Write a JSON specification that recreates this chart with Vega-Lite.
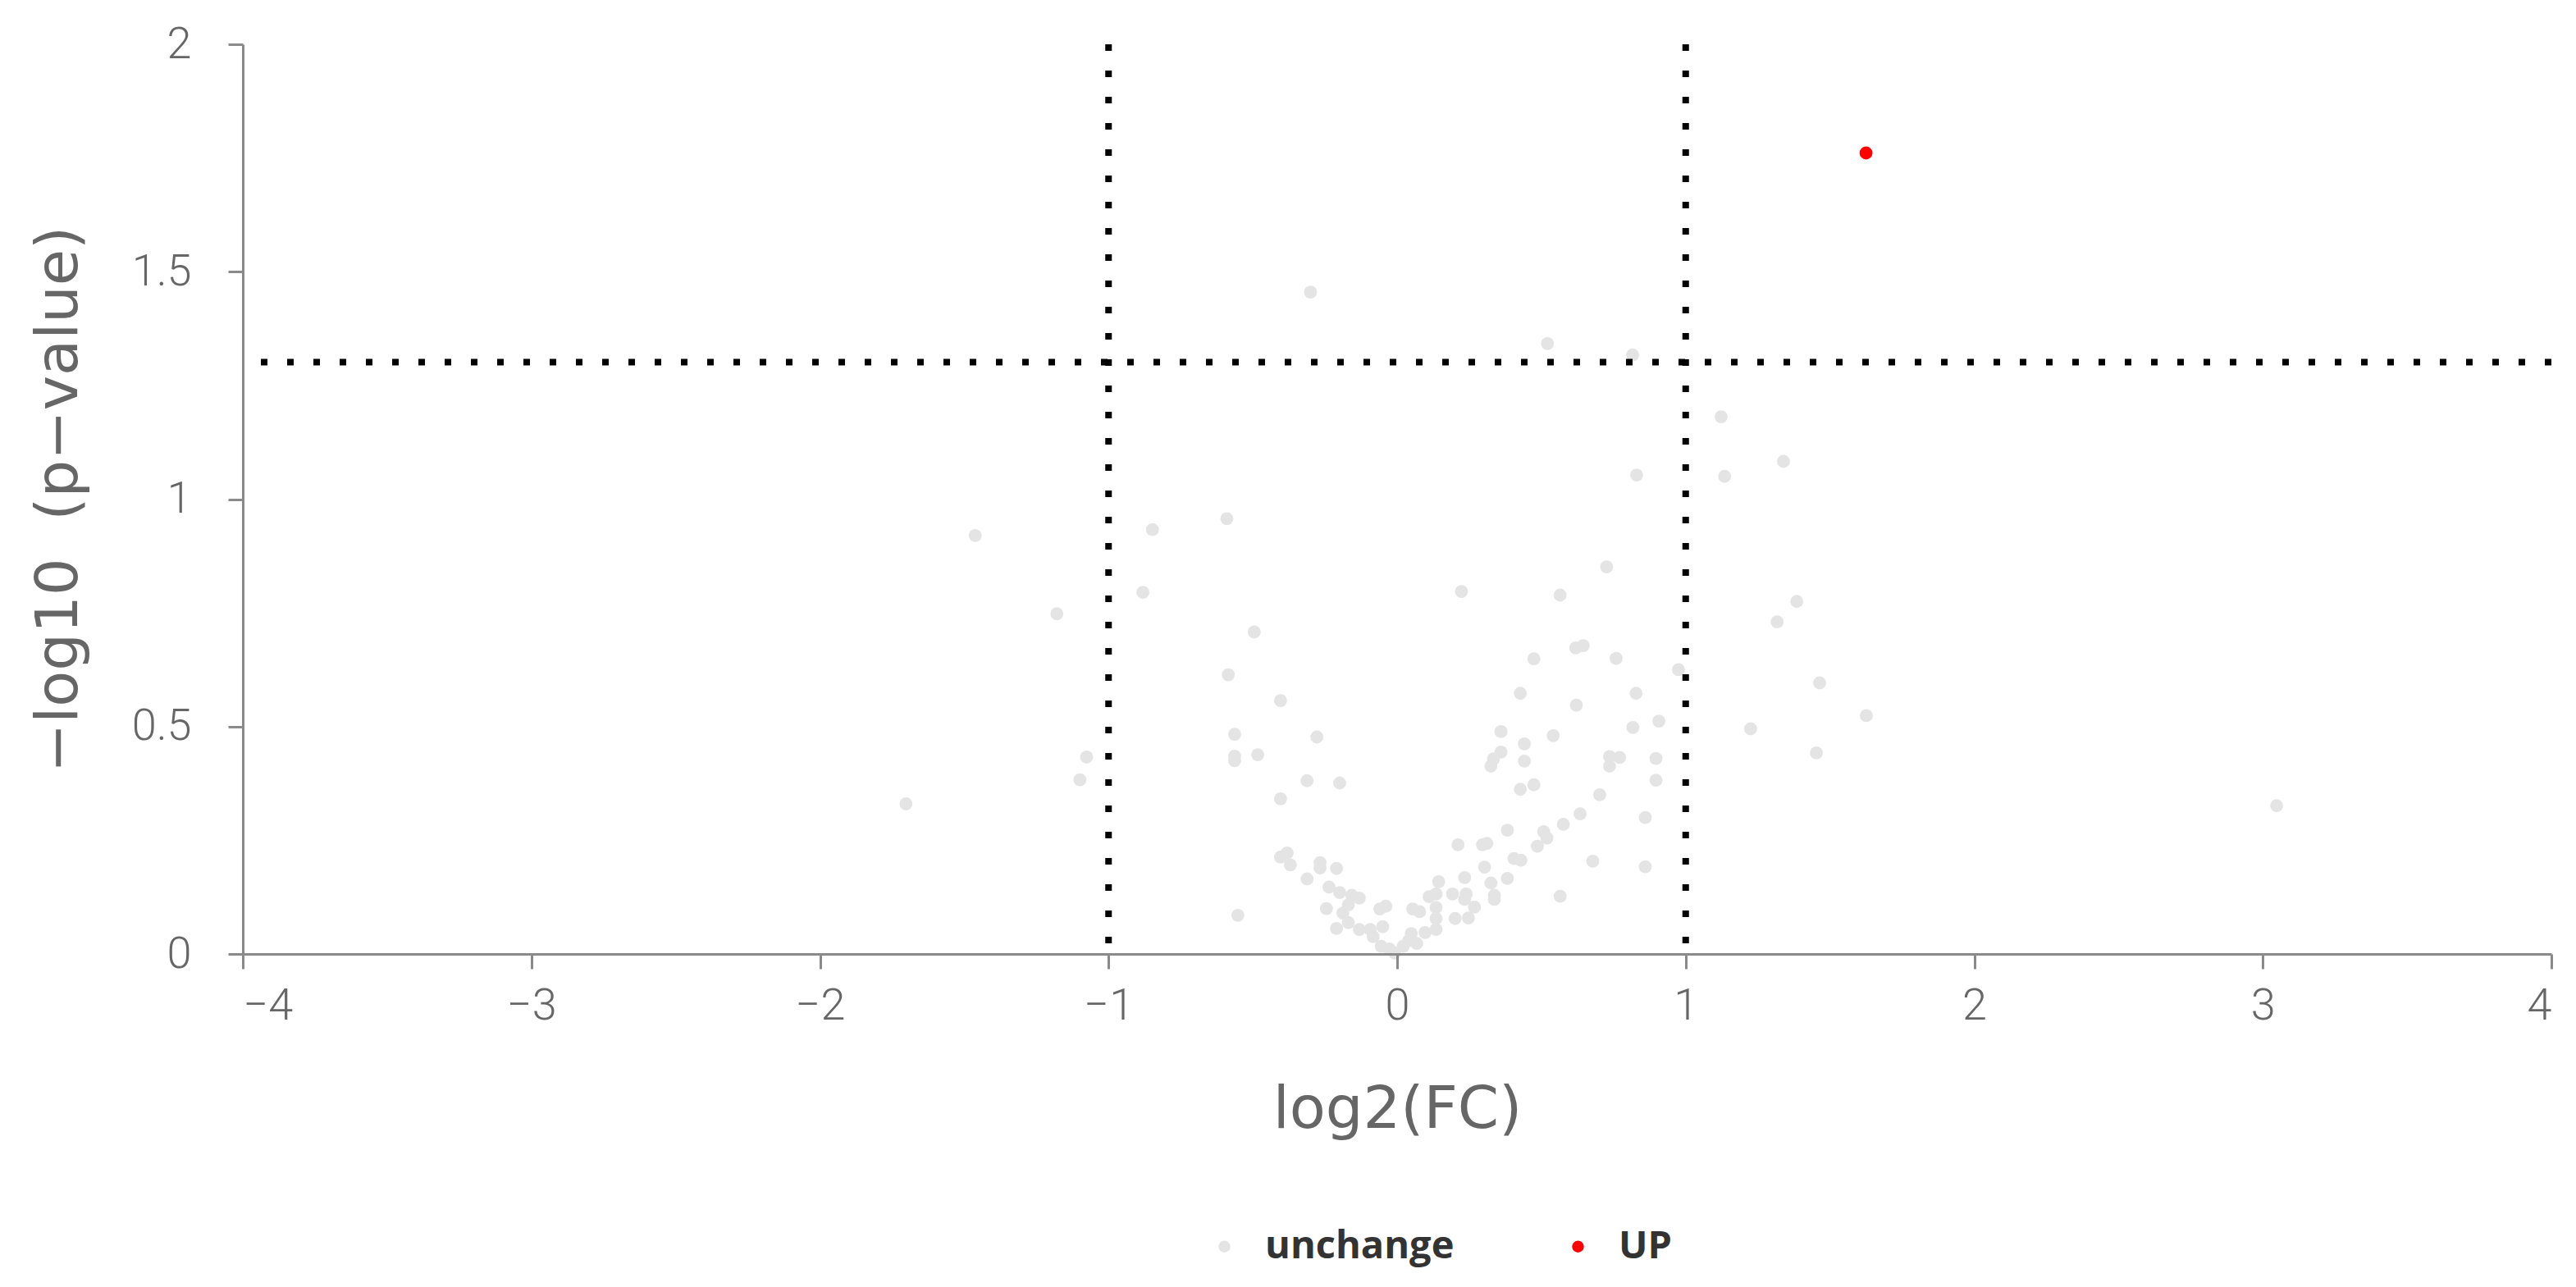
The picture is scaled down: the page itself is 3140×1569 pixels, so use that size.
{
  "$schema": "https://vega.github.io/schema/vega-lite/v6.json",
  "width": 2814,
  "height": 1109,
  "autosize": {"type": "none"},
  "padding": {"left": 296, "top": 54, "right": 30, "bottom": 406},
  "background": "white",
  "config": {"view": {"stroke": null}, "font": "Roboto"},
  "datasets": {
    "genes": [
      {"log2FC": -1.702, "logP": 0.330, "group": "unchange"},
      {"log2FC": -1.462, "logP": 0.920, "group": "unchange"},
      {"log2FC": -1.179, "logP": 0.748, "group": "unchange"},
      {"log2FC": -1.099, "logP": 0.383, "group": "unchange"},
      {"log2FC": -1.076, "logP": 0.433, "group": "unchange"},
      {"log2FC": -0.848, "logP": 0.933, "group": "unchange"},
      {"log2FC": -0.881, "logP": 0.795, "group": "unchange"},
      {"log2FC": -0.590, "logP": 0.957, "group": "unchange"},
      {"log2FC": -0.495, "logP": 0.708, "group": "unchange"},
      {"log2FC": -0.585, "logP": 0.614, "group": "unchange"},
      {"log2FC": -0.404, "logP": 0.557, "group": "unchange"},
      {"log2FC": -0.563, "logP": 0.483, "group": "unchange"},
      {"log2FC": -0.278, "logP": 0.477, "group": "unchange"},
      {"log2FC": -0.563, "logP": 0.435, "group": "unchange"},
      {"log2FC": -0.563, "logP": 0.425, "group": "unchange"},
      {"log2FC": -0.483, "logP": 0.438, "group": "unchange"},
      {"log2FC": -0.312, "logP": 0.381, "group": "unchange"},
      {"log2FC": -0.199, "logP": 0.376, "group": "unchange"},
      {"log2FC": -0.404, "logP": 0.341, "group": "unchange"},
      {"log2FC": -0.404, "logP": 0.213, "group": "unchange"},
      {"log2FC": -0.381, "logP": 0.222, "group": "unchange"},
      {"log2FC": -0.370, "logP": 0.196, "group": "unchange"},
      {"log2FC": -0.267, "logP": 0.201, "group": "unchange"},
      {"log2FC": -0.267, "logP": 0.189, "group": "unchange"},
      {"log2FC": -0.210, "logP": 0.188, "group": "unchange"},
      {"log2FC": -0.312, "logP": 0.165, "group": "unchange"},
      {"log2FC": -0.236, "logP": 0.147, "group": "unchange"},
      {"log2FC": -0.199, "logP": 0.135, "group": "unchange"},
      {"log2FC": -0.245, "logP": 0.100, "group": "unchange"},
      {"log2FC": -0.552, "logP": 0.085, "group": "unchange"},
      {"log2FC": -0.157, "logP": 0.129, "group": "unchange"},
      {"log2FC": -0.131, "logP": 0.123, "group": "unchange"},
      {"log2FC": -0.169, "logP": 0.108, "group": "unchange"},
      {"log2FC": -0.188, "logP": 0.090, "group": "unchange"},
      {"log2FC": -0.210, "logP": 0.056, "group": "unchange"},
      {"log2FC": -0.169, "logP": 0.069, "group": "unchange"},
      {"log2FC": -0.131, "logP": 0.054, "group": "unchange"},
      {"log2FC": -0.093, "logP": 0.054, "group": "unchange"},
      {"log2FC": -0.083, "logP": 0.038, "group": "unchange"},
      {"log2FC": -0.060, "logP": 0.099, "group": "unchange"},
      {"log2FC": -0.039, "logP": 0.105, "group": "unchange"},
      {"log2FC": -0.050, "logP": 0.060, "group": "unchange"},
      {"log2FC": -0.055, "logP": 0.017, "group": "unchange"},
      {"log2FC": -0.027, "logP": 0.011, "group": "unchange"},
      {"log2FC": -0.008, "logP": 0.002, "group": "unchange"},
      {"log2FC": 0.021, "logP": 0.017, "group": "unchange"},
      {"log2FC": 0.040, "logP": 0.029, "group": "unchange"},
      {"log2FC": 0.049, "logP": 0.045, "group": "unchange"},
      {"log2FC": 0.068, "logP": 0.023, "group": "unchange"},
      {"log2FC": 0.054, "logP": 0.099, "group": "unchange"},
      {"log2FC": 0.078, "logP": 0.093, "group": "unchange"},
      {"log2FC": 0.097, "logP": 0.047, "group": "unchange"},
      {"log2FC": 0.135, "logP": 0.054, "group": "unchange"},
      {"log2FC": 0.111, "logP": 0.126, "group": "unchange"},
      {"log2FC": 0.135, "logP": 0.132, "group": "unchange"},
      {"log2FC": 0.144, "logP": 0.159, "group": "unchange"},
      {"log2FC": 0.135, "logP": 0.102, "group": "unchange"},
      {"log2FC": 0.135, "logP": 0.078, "group": "unchange"},
      {"log2FC": 0.192, "logP": 0.132, "group": "unchange"},
      {"log2FC": 0.239, "logP": 0.132, "group": "unchange"},
      {"log2FC": 0.234, "logP": 0.120, "group": "unchange"},
      {"log2FC": 0.201, "logP": 0.078, "group": "unchange"},
      {"log2FC": 0.247, "logP": 0.079, "group": "unchange"},
      {"log2FC": 0.268, "logP": 0.103, "group": "unchange"},
      {"log2FC": 0.337, "logP": 0.129, "group": "unchange"},
      {"log2FC": 0.337, "logP": 0.120, "group": "unchange"},
      {"log2FC": 0.565, "logP": 0.127, "group": "unchange"},
      {"log2FC": 0.234, "logP": 0.168, "group": "unchange"},
      {"log2FC": 0.382, "logP": 0.166, "group": "unchange"},
      {"log2FC": 0.325, "logP": 0.156, "group": "unchange"},
      {"log2FC": 0.303, "logP": 0.191, "group": "unchange"},
      {"log2FC": 0.405, "logP": 0.210, "group": "unchange"},
      {"log2FC": 0.429, "logP": 0.206, "group": "unchange"},
      {"log2FC": 0.678, "logP": 0.204, "group": "unchange"},
      {"log2FC": 0.860, "logP": 0.192, "group": "unchange"},
      {"log2FC": 0.211, "logP": 0.240, "group": "unchange"},
      {"log2FC": 0.296, "logP": 0.240, "group": "unchange"},
      {"log2FC": 0.311, "logP": 0.243, "group": "unchange"},
      {"log2FC": 0.486, "logP": 0.237, "group": "unchange"},
      {"log2FC": 0.508, "logP": 0.269, "group": "unchange"},
      {"log2FC": 0.519, "logP": 0.255, "group": "unchange"},
      {"log2FC": 0.382, "logP": 0.272, "group": "unchange"},
      {"log2FC": 0.576, "logP": 0.285, "group": "unchange"},
      {"log2FC": 0.634, "logP": 0.308, "group": "unchange"},
      {"log2FC": 0.860, "logP": 0.300, "group": "unchange"},
      {"log2FC": 0.702, "logP": 0.350, "group": "unchange"},
      {"log2FC": 0.427, "logP": 0.362, "group": "unchange"},
      {"log2FC": 0.474, "logP": 0.372, "group": "unchange"},
      {"log2FC": 0.897, "logP": 0.382, "group": "unchange"},
      {"log2FC": 0.897, "logP": 0.430, "group": "unchange"},
      {"log2FC": 0.736, "logP": 0.434, "group": "unchange"},
      {"log2FC": 0.771, "logP": 0.432, "group": "unchange"},
      {"log2FC": 0.736, "logP": 0.413, "group": "unchange"},
      {"log2FC": 0.360, "logP": 0.444, "group": "unchange"},
      {"log2FC": 0.334, "logP": 0.429, "group": "unchange"},
      {"log2FC": 0.325, "logP": 0.413, "group": "unchange"},
      {"log2FC": 0.441, "logP": 0.424, "group": "unchange"},
      {"log2FC": 0.441, "logP": 0.462, "group": "unchange"},
      {"log2FC": 0.360, "logP": 0.489, "group": "unchange"},
      {"log2FC": 0.541, "logP": 0.480, "group": "unchange"},
      {"log2FC": 0.817, "logP": 0.498, "group": "unchange"},
      {"log2FC": 0.907, "logP": 0.512, "group": "unchange"},
      {"log2FC": 0.621, "logP": 0.547, "group": "unchange"},
      {"log2FC": 0.427, "logP": 0.573, "group": "unchange"},
      {"log2FC": 0.828, "logP": 0.573, "group": "unchange"},
      {"log2FC": 0.474, "logP": 0.649, "group": "unchange"},
      {"log2FC": 0.759, "logP": 0.650, "group": "unchange"},
      {"log2FC": 0.975, "logP": 0.625, "group": "unchange"},
      {"log2FC": 0.619, "logP": 0.673, "group": "unchange"},
      {"log2FC": 0.645, "logP": 0.678, "group": "unchange"},
      {"log2FC": 0.726, "logP": 0.851, "group": "unchange"},
      {"log2FC": 0.223, "logP": 0.797, "group": "unchange"},
      {"log2FC": 0.565, "logP": 0.789, "group": "unchange"},
      {"log2FC": 0.830, "logP": 1.053, "group": "unchange"},
      {"log2FC": -0.300, "logP": 1.455, "group": "unchange"},
      {"log2FC": 0.521, "logP": 1.342, "group": "unchange"},
      {"log2FC": 0.816, "logP": 1.317, "group": "unchange"},
      {"log2FC": 1.123, "logP": 1.181, "group": "unchange"},
      {"log2FC": 1.339, "logP": 1.083, "group": "unchange"},
      {"log2FC": 1.135, "logP": 1.050, "group": "unchange"},
      {"log2FC": 1.385, "logP": 0.775, "group": "unchange"},
      {"log2FC": 1.317, "logP": 0.730, "group": "unchange"},
      {"log2FC": 1.464, "logP": 0.596, "group": "unchange"},
      {"log2FC": 1.626, "logP": 0.524, "group": "unchange"},
      {"log2FC": 1.225, "logP": 0.495, "group": "unchange"},
      {"log2FC": 1.453, "logP": 0.442, "group": "unchange"},
      {"log2FC": 3.048, "logP": 0.326, "group": "unchange"},
      {"log2FC": 1.625, "logP": 1.761, "group": "UP"}
    ],
    "vlines": [{"x": -1}, {"x": 1}],
    "hlines": [{"y": 1.30103}]
  },
  "layer": [
    {
      "data": {"name": "genes"},
      "mark": {"type": "circle", "size": 250, "opacity": 1},
      "encoding": {
        "x": {
          "field": "log2FC",
          "type": "quantitative",
          "scale": {"domain": [-4, 4], "nice": false, "zero": false},
          "axis": {
            "values": [-4, -3, -2, -1, 0, 1, 2, 3, 4],
            "format": "~g",
            "title": "log2(FC)",
            "grid": false,
            "zindex": 1,
            "domainColor": "#8a8a8a",
            "domainWidth": 3,
            "tickColor": "#8a8a8a",
            "tickWidth": 3,
            "tickSize": 18,
            "labelFont": "Roboto",
            "labelFontWeight": 300,
            "labelFontSize": 54,
            "labelColor": "#666666",
            "labelPadding": 18,
            "titleFont": "DejaVu Sans",
            "titleFontWeight": "normal",
            "titleFontSize": 72,
            "titleColor": "#666666",
            "titlePadding": 64
          }
        },
        "y": {
          "field": "logP",
          "type": "quantitative",
          "scale": {"domain": [0, 2], "nice": false},
          "axis": {
            "values": [0, 0.5, 1, 1.5, 2],
            "format": "~g",
            "title": "−log10\u00a0\u00a0(p−value)",
            "grid": false,
            "zindex": 1,
            "domainColor": "#8a8a8a",
            "domainWidth": 3,
            "tickColor": "#8a8a8a",
            "tickWidth": 3,
            "tickSize": 18,
            "labelFont": "Roboto",
            "labelFontWeight": 300,
            "labelFontSize": 54,
            "labelColor": "#666666",
            "labelPadding": 45,
            "titleFont": "DejaVu Sans",
            "titleFontWeight": "normal",
            "titleFontSize": 72,
            "titleColor": "#666666",
            "titlePadding": 52
          }
        },
        "color": {
          "field": "group",
          "type": "nominal",
          "scale": {"domain": ["unchange", "UP"], "range": ["#e4e4e4", "#ff0000"]},
          "legend": {
            "title": null,
            "orient": "none",
            "legendX": 1173,
            "legendY": 1442,
            "direction": "horizontal",
            "symbolType": "circle",
            "symbolSize": 210,
            "symbolStrokeWidth": 0,
            "labelFont": "Open Sans",
            "labelFontWeight": "bold",
            "labelFontSize": 47,
            "labelColor": "#333333",
            "labelLimit": 1000,
            "labelOffset": 26,
            "columnPadding": 127
          }
        }
      }
    },
    {
      "data": {"name": "vlines"},
      "mark": {"type": "rule", "color": "black", "strokeWidth": 8, "strokeDash": [8, 24], "strokeCap": "butt"},
      "encoding": {"x": {"field": "x", "type": "quantitative"}}
    },
    {
      "data": {"name": "hlines"},
      "mark": {"type": "rule", "color": "black", "strokeWidth": 8, "strokeDash": [8, 24], "strokeCap": "butt"},
      "encoding": {"y": {"field": "y", "type": "quantitative"}}
    }
  ]
}
